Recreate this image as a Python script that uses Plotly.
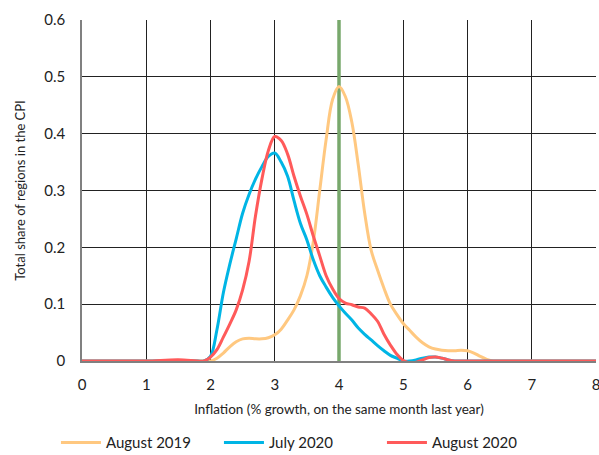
import plotly.graph_objects as go

x_vals = [0, 0.5, 1.0, 1.5, 1.8, 1.9, 2.0, 2.1, 2.2, 2.3, 2.4, 2.5, 2.6, 2.7, 2.8, 2.9,
          3.0, 3.1, 3.2, 3.3, 3.4, 3.5, 3.6, 3.7, 3.8, 3.9, 4.0, 4.1, 4.2, 4.3, 4.4,
          4.5, 4.6, 4.7, 4.8, 4.9, 5.0, 5.1, 5.2, 5.3, 5.4, 5.5, 5.6, 5.7, 5.8, 5.9,
          6.0, 6.1, 6.2, 6.3, 6.4, 6.5, 7.0, 7.5, 8.0]

aug2019 = [0, 0, 0, 0, 0, 0, 0.0, 0.005, 0.014, 0.025, 0.034, 0.039, 0.040, 0.039, 0.039, 0.041,
           0.046, 0.056, 0.072, 0.090, 0.115, 0.150, 0.210, 0.300, 0.390, 0.460, 0.483, 0.465, 0.420, 0.345, 0.260,
           0.195, 0.160, 0.128, 0.100, 0.082, 0.066, 0.054, 0.042, 0.032, 0.025, 0.021, 0.019, 0.018, 0.018, 0.019,
           0.018, 0.014, 0.008, 0.003, 0.0, 0, 0, 0, 0]

jul2020 = [0, 0, 0, 0.001, 0, 0, 0.008, 0.055, 0.120, 0.170, 0.215, 0.260, 0.293, 0.320, 0.342, 0.360,
           0.366, 0.350, 0.325, 0.282, 0.242, 0.213, 0.178, 0.150, 0.130, 0.112, 0.097, 0.084, 0.072, 0.058, 0.047,
           0.037, 0.027, 0.018, 0.010, 0.005, 0.0, 0.0, 0.002, 0.005, 0.007, 0.007, 0.005, 0.002, 0.0, 0,
           0, 0, 0, 0, 0, 0, 0, 0, 0]

aug2020 = [0, 0, 0, 0.002, 0, 0, 0.007, 0.020, 0.042, 0.065, 0.090, 0.125, 0.175, 0.255, 0.320, 0.370,
           0.395, 0.388, 0.364, 0.325, 0.290, 0.258, 0.220, 0.185, 0.150, 0.127, 0.110, 0.102, 0.099, 0.095, 0.093,
           0.083, 0.070, 0.047, 0.028, 0.012, 0.001, -0.003, -0.002, 0.002, 0.006, 0.007, 0.005, 0.002, 0.0, 0,
           0, 0, 0, 0, 0, 0, 0, 0, 0]

target_x = [4, 4]
target_y = [0, 0.6]

x_ticks = [0, 1, 2, 3, 4, 5, 6, 7, 8]
y_ticks = [0, 0.1, 0.2, 0.3, 0.4, 0.5, 0.6]
y_tick_labels = ["0", "0.1", "0.2", "0.3", "0.4", "0.5", "0.6"]

FONT = "Lato"

fig = go.Figure()
fig.add_trace(go.Scatter(x=target_x, y=target_y, mode="lines",
                         line=dict(color="#78A86C", width=3.5), showlegend=False, hoverinfo="skip"))
fig.add_trace(go.Scatter(x=x_vals, y=aug2019, mode="lines", name="August 2019",
                         line=dict(color="#FFC880", width=3, shape="spline", smoothing=1.0)))
fig.add_trace(go.Scatter(x=x_vals, y=jul2020, mode="lines", name="July 2020",
                         line=dict(color="#00B5E5", width=3, shape="spline", smoothing=1.0)))
fig.add_trace(go.Scatter(x=x_vals, y=aug2020, mode="lines", name="August 2020",
                         line=dict(color="#FF5A5A", width=3, shape="spline", smoothing=1.0)))

fig.update_layout(
    width=599, height=455,
    margin=dict(l=82, r=3, t=20, b=94, autoexpand=False),
    paper_bgcolor="white", plot_bgcolor="white",
    font=dict(family=FONT, color="#222", size=15),
    legend=dict(orientation="h", x=0.425, xanchor="center", y=-0.24, yanchor="middle",
                font=dict(size=15, family=FONT, color="#222"), traceorder="normal",
                itemwidth=40, entrywidth=108, tracegroupgap=0),
    showlegend=True,
)
fig.update_xaxes(range=[0, 8], tickvals=x_ticks, showgrid=True, gridcolor="#222", gridwidth=1,
                 showline=True, linecolor="#808080", linewidth=1.5, zeroline=False, automargin=False,
                 ticks="", tickfont=dict(size=15, family=FONT), ticklabelstandoff=9,
                 ticklabeloverflow="allow",
                 title=dict(text="Inflation (% growth, on the same month last year)",
                            font=dict(size=13.5, family=FONT), standoff=13))
fig.update_yaxes(range=[0, 0.6], tickvals=y_ticks, ticktext=y_tick_labels, showgrid=True,
                 gridcolor="#222", gridwidth=1, showline=True, linecolor="#808080", linewidth=1.5,
                 zeroline=False, ticks="", tickfont=dict(size=15, family=FONT), ticklabelstandoff=12,
                 automargin=False, ticklabeloverflow="allow",
                 title=dict(text="Total share of regions in the CPI", font=dict(size=13, family=FONT),
                            standoff=16))

fig.write_html("out.html", config={"displayModeBar": False},
               post_script="document.body.style.margin='0';")
